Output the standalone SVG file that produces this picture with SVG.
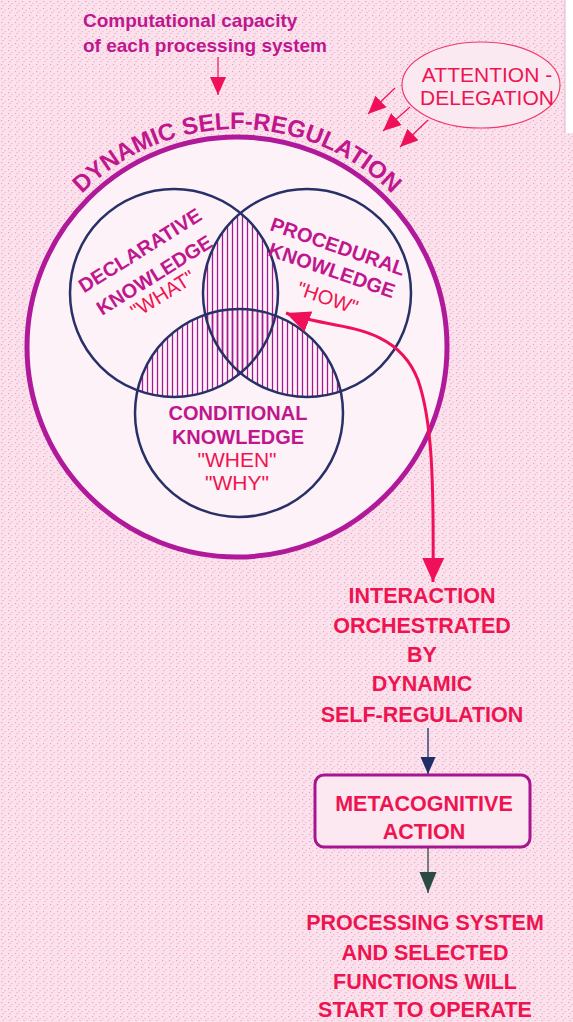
<svg xmlns="http://www.w3.org/2000/svg" width="573" height="1022" viewBox="0 0 573 1022">
<style>
text{font-family:"Liberation Sans",Arial,sans-serif}
.mag{fill:#c0168e;font-weight:bold}
.red{fill:#ee1452}
.redb{fill:#ee1452;font-weight:bold}
.venn{fill:none;stroke:#283068;stroke-width:2.5}
</style>
<defs>
<pattern id="dots" width="7" height="7" patternUnits="userSpaceOnUse">
<rect width="7" height="7" fill="#fae1ec"/>
<rect x="1" y="1" width="1.1" height="1.1" fill="#ef98bf"/>
<rect x="4.5" y="3" width="1.1" height="1.1" fill="#f3aacb"/>
<rect x="2.5" y="5" width="1.1" height="1.1" fill="#f1a0c4"/>
</pattern>
<pattern id="hatch" width="5" height="10" patternUnits="userSpaceOnUse">
<line x1="2.5" y1="0" x2="2.5" y2="10" stroke="#a31b8e" stroke-width="1.3"/>
</pattern>
<clipPath id="cDecl"><circle cx="174" cy="293" r="104"/></clipPath>
<clipPath id="cProc"><circle cx="307" cy="293" r="104"/></clipPath>
<clipPath id="cCond"><circle cx="239" cy="413" r="104"/></clipPath>
<marker id="redHead" markerUnits="userSpaceOnUse" markerWidth="26" markerHeight="24" refX="24" refY="11" orient="auto-start-reverse">
<path d="M0,0 L24,11 L0,22 z" fill="#f0105a"/>
</marker>
<marker id="smallRed" markerUnits="userSpaceOnUse" markerWidth="20" markerHeight="18" refX="18" refY="8" orient="auto">
<path d="M0,0 L18,8 L0,16 z" fill="#f0105a"/>
</marker>
<marker id="navyHead" markerUnits="userSpaceOnUse" markerWidth="18" markerHeight="16" refX="17" refY="7.5" orient="auto">
<path d="M0,0 L17,7.5 L0,15 z" fill="#1e2d68"/>
</marker>
<marker id="greenHead" markerUnits="userSpaceOnUse" markerWidth="22" markerHeight="18" refX="21" refY="8.5" orient="auto">
<path d="M0,0 L21,8.5 L0,17 z" fill="#2c4a44"/>
</marker>
</defs>

<rect width="573" height="1022" fill="url(#dots)"/>
<rect x="565" y="0" width="8" height="133" fill="#ffffff"/>
<line x1="565" y1="0" x2="565" y2="133" stroke="#e6b4cc" stroke-width="1"/>

<g id="outer-circle">
<circle cx="237" cy="347" r="210" fill="#fdf2f7" stroke="#b0199a" stroke-width="5"/>
<path id="arcText" d="M 19,347 A 218 218 0 0 1 455,347" fill="none"/>
<text class="mag" font-size="24" fill="#b3179a"><textPath href="#arcText" startOffset="50%" text-anchor="middle">DYNAMIC SELF-REGULATION</textPath></text>
</g>

<g id="hatching">
<g clip-path="url(#cDecl)"><rect x="0" y="150" width="573" height="400" fill="url(#hatch)" clip-path="url(#cProc)"/></g>
<g clip-path="url(#cDecl)"><rect x="0" y="150" width="573" height="400" fill="url(#hatch)" clip-path="url(#cCond)"/></g>
<g clip-path="url(#cProc)"><rect x="0" y="150" width="573" height="400" fill="url(#hatch)" clip-path="url(#cCond)"/></g>
</g>

<g id="declarative">
<circle class="venn" cx="174" cy="293" r="104"/>
<g transform="translate(150,270) rotate(-32)">
<text class="mag" font-size="20" x="2" y="-15" text-anchor="middle">DECLARATIVE</text>
<text class="mag" font-size="20" x="1" y="13.5" text-anchor="middle">KNOWLEDGE</text>
<text class="red" font-size="20" x="-2" y="34" text-anchor="middle">"WHAT"</text>
</g>
</g>

<g id="procedural">
<circle class="venn" cx="307" cy="293" r="104"/>
<g transform="translate(333,270) rotate(19)">
<text class="mag" font-size="20" x="-3" y="-17" text-anchor="middle">PROCEDURAL</text>
<text class="mag" font-size="20" x="-1" y="7.5" text-anchor="middle">KNOWLEDGE</text>
<text class="red" font-size="20" x="4" y="35" text-anchor="middle">"HOW"</text>
</g>
</g>

<g id="conditional">
<circle class="venn" cx="239" cy="413" r="104"/>
<text class="mag" font-size="20" x="238" y="420" text-anchor="middle">CONDITIONAL</text>
<text class="mag" font-size="20" x="238" y="444" text-anchor="middle">KNOWLEDGE</text>
<text class="red" font-size="21" x="237" y="467" text-anchor="middle">"WHEN"</text>
<text class="red" font-size="21" x="237" y="490" text-anchor="middle">"WHY"</text>
</g>

<g id="computational">
<text class="mag" font-size="19" x="83" y="27">Computational capacity</text>
<text class="mag" font-size="19" x="83" y="52">of each processing system</text>
</g>

<g id="attention">
<ellipse cx="481" cy="85" rx="79" ry="43" fill="#fbe9f1" stroke="#ee3a6a" stroke-width="1.2"/>
<text class="red" font-size="21" x="487" y="82" text-anchor="middle">ATTENTION -</text>
<text class="red" font-size="21" x="487" y="105" text-anchor="middle">DELEGATION</text>
</g>

<g id="interaction">
<text class="redb" font-size="21.5" x="422" y="603" text-anchor="middle">INTERACTION</text>
<text class="redb" font-size="21.5" x="422" y="633" text-anchor="middle">ORCHESTRATED</text>
<text class="redb" font-size="21.5" x="422" y="662" text-anchor="middle">BY</text>
<text class="redb" font-size="21.5" x="422" y="691" text-anchor="middle">DYNAMIC</text>
<text class="redb" font-size="21.5" x="422" y="722" text-anchor="middle">SELF-REGULATION</text>
</g>

<g id="metacognitive">
<rect x="315" y="775" width="215" height="72" rx="9" fill="#fbe8f0" stroke="#a8168f" stroke-width="3"/>
<text class="redb" font-size="21.5" x="424" y="811" text-anchor="middle" fill="#e8145e">METACOGNITIVE</text>
<text class="redb" font-size="21.5" x="424" y="839" text-anchor="middle" fill="#e8145e">ACTION</text>
</g>

<g id="processing">
<text class="redb" font-size="21.5" x="425" y="930" text-anchor="middle">PROCESSING SYSTEM</text>
<text class="redb" font-size="21.5" x="425" y="960" text-anchor="middle">AND SELECTED</text>
<text class="redb" font-size="21.5" x="425" y="989" text-anchor="middle">FUNCTIONS WILL</text>
<text class="redb" font-size="21.5" x="425" y="1017" text-anchor="middle">START TO OPERATE</text>
</g>

<g id="connectors" fill="none">
<line x1="218" y1="57" x2="218" y2="95" stroke="#f0105a" stroke-width="1.2" marker-end="url(#smallRed)"/>
<line x1="395" y1="88" x2="368" y2="114" stroke="#f0105a" stroke-width="1.2" marker-end="url(#smallRed)"/>
<line x1="410" y1="107" x2="383" y2="131" stroke="#f0105a" stroke-width="1.2" marker-end="url(#smallRed)"/>
<line x1="428" y1="120" x2="400" y2="147" stroke="#f0105a" stroke-width="1.2" marker-end="url(#smallRed)"/>
<path d="M 286,313 C 330,330 395,320 418,380 C 432,420 434,480 433,582" stroke="#f0105a" stroke-width="3" marker-start="url(#redHead)" marker-end="url(#redHead)"/>
<line x1="428" y1="728" x2="428" y2="774" stroke="#1e2d68" stroke-width="1.3" marker-end="url(#navyHead)"/>
<line x1="428" y1="848" x2="428" y2="893" stroke="#2c4a44" stroke-width="1.3" marker-end="url(#greenHead)"/>
</g>
</svg>
